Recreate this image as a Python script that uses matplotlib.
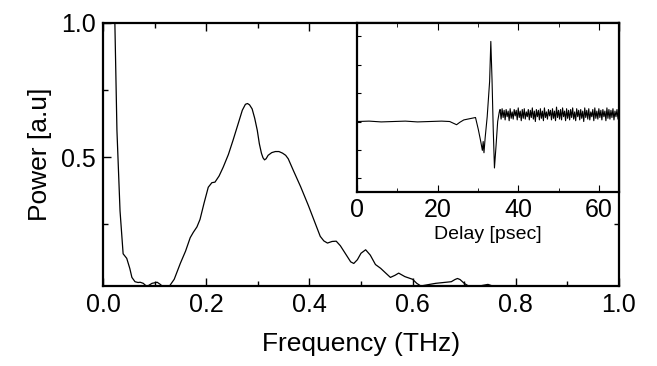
import numpy as np
import matplotlib
matplotlib.use("Agg")
import matplotlib.pyplot as plt
from matplotlib.ticker import MultipleLocator, FixedLocator

plt.rcParams['font.family'] = ['Liberation Sans', 'DejaVu Sans']

# ---- main spectrum (frequency in THz, power in a.u.) ----
freq = [0.020, 0.023, 0.027, 0.033, 0.039, 0.046, 0.052, 0.056, 0.062, 0.068,
        0.072, 0.078, 0.085, 0.095, 0.105, 0.111, 0.117, 0.126, 0.138, 0.150,
        0.160, 0.169, 0.175, 0.182, 0.188, 0.196, 0.204, 0.211, 0.217, 0.225,
        0.233, 0.243, 0.252, 0.262, 0.270, 0.276, 0.280, 0.284, 0.289, 0.294,
        0.299, 0.303, 0.307, 0.310, 0.313, 0.316, 0.320, 0.327, 0.334, 0.341,
        0.348, 0.354, 0.359, 0.369, 0.383, 0.398, 0.410, 0.421, 0.428, 0.435,
        0.444, 0.452, 0.460, 0.470, 0.480, 0.486, 0.493, 0.500, 0.509, 0.518,
        0.528, 0.538, 0.548, 0.557, 0.566, 0.573, 0.585, 0.600, 0.608, 0.616,
        0.630, 0.645, 0.660, 0.675, 0.682, 0.687, 0.692, 0.700, 0.710, 0.720,
        0.735, 0.746, 0.758, 0.800, 0.900, 1.000]
power = [1.30, 1.00, 0.60, 0.30, 0.140, 0.123, 0.085, 0.052, 0.036, 0.033,
         0.034, 0.030, 0.018, 0.030, 0.034, 0.026, 0.016, 0.012, 0.045, 0.105,
         0.150, 0.200, 0.220, 0.240, 0.268, 0.330, 0.388, 0.405, 0.407, 0.430,
         0.463, 0.510, 0.563, 0.625, 0.675, 0.697, 0.700, 0.695, 0.680, 0.645,
         0.600, 0.550, 0.515, 0.498, 0.490, 0.494, 0.507, 0.517, 0.521, 0.521,
         0.515, 0.507, 0.494, 0.450, 0.390, 0.320, 0.260, 0.205, 0.188, 0.180,
         0.186, 0.187, 0.170, 0.140, 0.110, 0.104, 0.118, 0.142, 0.155, 0.135,
         0.100, 0.086, 0.068, 0.052, 0.060, 0.068, 0.055, 0.045, 0.030, 0.020,
         0.025, 0.030, 0.033, 0.036, 0.044, 0.048, 0.044, 0.030, 0.018, 0.015,
         0.022, 0.026, 0.018, 0.010, 0.010, 0.010]

# ---- inset: time-domain pulse (delay in psec, amplitude in a.u.) ----
delay_pulse = [0.0, 3.0, 6.0, 9.0, 12.0, 15.0, 18.0, 21.0, 23.0, 24.7,
               25.5, 26.5, 27.5, 28.5, 29.4, 30.1, 30.7, 31.1, 31.3, 31.5,
               31.8, 32.3, 32.9, 33.2, 33.5, 33.8, 34.1, 34.5, 34.9, 35.3]
amp_pulse = [0.0, 0.005, -0.005, 0.0, 0.005, -0.005, 0.0, 0.005, 0.0, -0.04,
             -0.01, 0.02, 0.03, 0.04, 0.05, -0.10, -0.25, -0.36, -0.25, -0.39,
             -0.20, 0.06, 0.50, 1.00, 0.52, -0.10, -0.58, -0.30, 0.00, 0.12]
# noisy tail after the pulse, 0.25 psec spacing starting at 35.5 psec
tail_start, tail_step = 35.5, 0.25
amp_tail = [0.15, 0.03, 0.16, 0.05, 0.14, 0.02, 0.15, 0.06, 0.13, 0.01,
            0.16, 0.04, 0.12, 0.03, 0.15, 0.07, 0.14, 0.02, 0.17, 0.05,
            0.13, 0.01, 0.15, 0.04, 0.16, 0.03, 0.12, 0.06, 0.15, 0.02,
            0.14, 0.05, 0.17, 0.03, 0.13, 0.00, 0.15, 0.06, 0.14, 0.02,
            0.16, 0.04, 0.13, 0.01, 0.17, 0.05, 0.12, 0.03, 0.15, 0.07,
            0.14, 0.02, 0.16, 0.04, 0.13, 0.01, 0.18, 0.05, 0.14, 0.03,
            0.15, 0.02, 0.17, 0.06, 0.13, 0.01, 0.16, 0.04, 0.14, 0.02,
            0.15, 0.05, 0.17, 0.03, 0.12, 0.01, 0.16, 0.06, 0.14, 0.02,
            0.15, 0.04, 0.13, 0.00, 0.17, 0.05, 0.14, 0.03, 0.16, 0.02,
            0.12, 0.06, 0.15, 0.01, 0.17, 0.04, 0.13, 0.03, 0.16, 0.05,
            0.14, 0.02, 0.15, 0.06, 0.13, 0.01, 0.17, 0.04, 0.15, 0.03,
            0.14, 0.05, 0.16, 0.02, 0.13, 0.06, 0.15, 0.03, 0.17, 0.05]

x_major = [0.0, 0.2, 0.4, 0.6, 0.8, 1.0]
x_labels = ["0.0", "0.2", "0.4", "0.6", "0.8", "1.0"]
y_major = [0.5, 1.0]
y_labels = ["0.5", "1.0"]
in_x_major = [0, 20, 40, 60]
in_x_labels = ["0", "20", "40", "60"]

W, H = 657, 366
fig = plt.figure(figsize=(W / 100, H / 100), dpi=100)

def fx(px):
    return px / W

def fy(py):
    return 1 - py / H

# main axes
L, R, T, B = 103, 619, 23, 286
ax = fig.add_axes([fx(L), fy(B), fx(R - L), fy(T) - fy(B)])
ax.plot(freq, power, color='black', lw=0.9)
ax.set_xlim(0, 1.0)
ax.set_ylim(0.02, 1.0)
ax.set_xticks(x_major)
ax.set_xticklabels(x_labels)
ax.xaxis.set_minor_locator(MultipleLocator(0.1))
ax.set_yticks(y_major)
ax.set_yticklabels(y_labels)
ax.yaxis.set_minor_locator(FixedLocator([0.25, 0.75]))
ax.tick_params(which='both', direction='in', top=True, right=True,
               labelsize=18, width=1.0)
ax.tick_params(which='major', length=6, pad=5)
ax.tick_params(which='minor', length=3.5)
for s in ax.spines.values():
    s.set_linewidth(1.6)
ax.set_xlabel("Frequency (THz)", fontsize=19)
ax.set_ylabel("Power [a.u]", fontsize=19)
ax.xaxis.set_label_coords(0.5, -0.175)
ax.yaxis.set_label_coords(-0.098, 0.5)

# inset axes
iL, iR, iT, iB = 357, 619, 23, 192
axi = fig.add_axes([fx(iL), fy(iB), fx(iR - iL), fy(iT) - fy(iB)])
delay_tail = [tail_start + tail_step * i for i in range(len(amp_tail))]
axi.plot(delay_pulse + delay_tail, amp_pulse + amp_tail, color='black', lw=0.8)
axi.set_xlim(0, 65)
axi.set_ylim(-0.88, 1.23)
axi.set_xticks(in_x_major)
axi.set_xticklabels(in_x_labels)
axi.xaxis.set_minor_locator(MultipleLocator(10))
axi.set_yticks([-0.708, -0.354, 0.0, 0.354, 0.708, 1.062])
axi.tick_params(axis='y', which='both', direction='in', labelleft=False,
                length=3, right=False)
axi.tick_params(axis='x', which='both', direction='in', top=True,
                labelsize=18, pad=4)
axi.tick_params(axis='x', which='major', length=5)
axi.tick_params(axis='x', which='minor', length=3)
for s in axi.spines.values():
    s.set_linewidth(1.6)
axi.set_xlabel("Delay [psec]", fontsize=14, labelpad=3)
axi.set_facecolor('white')

fig.savefig("out.png", dpi=100)
